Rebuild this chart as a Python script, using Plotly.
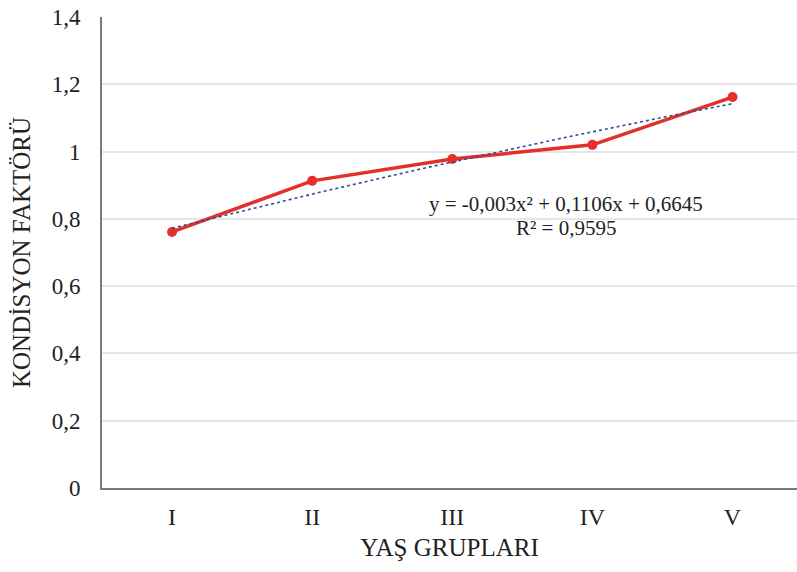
import numpy as np
import plotly.graph_objects as go

# Age groups and their mean condition factor
age_groups = ["I", "II", "III", "IV", "V"]
condition_factor = [0.761, 0.913, 0.978, 1.020, 1.162]

# Polynomial trendline coefficients (order 2) as printed on the chart
trend_a, trend_b, trend_c = -0.003, 0.1106, 0.6645
r_squared = 0.9595

y_ticks = [0, 0.2, 0.4, 0.6, 0.8, 1.0, 1.2, 1.4]
y_tick_text = ["0", "0,2", "0,4", "0,6", "0,8", "1", "1,2", "1,4"]

pos = list(range(len(age_groups)))
t = np.linspace(1, len(age_groups), 200)
trend_y = trend_a * t**2 + trend_b * t + trend_c

font_family = "Liberation Serif, Times New Roman, serif"
text_color = "#222222"

fig = go.Figure()
fig.add_trace(go.Scatter(
    x=pos, y=condition_factor, mode="lines+markers",
    line=dict(color="#E3302A", width=3.5),
    marker=dict(color="#E3302A", size=10),
    hoverinfo="skip", showlegend=False,
))
fig.add_trace(go.Scatter(
    x=t - 1, y=trend_y, mode="lines",
    line=dict(color="#2F4F8F", width=1.6, dash="dot"),
    hoverinfo="skip", showlegend=False,
))

eq_line = "y = -0,003x² + 0,1106x + 0,6645"
r2_line = "R² = " + f"{r_squared:.4f}".replace(".", ",")
for txt, yv in [(eq_line, 0.844), (r2_line, 0.773)]:
    fig.add_annotation(
        x=2.81, y=yv, xref="x", yref="y", text=txt, showarrow=False,
        font=dict(family=font_family, size=21, color=text_color),
        xanchor="center", yanchor="middle",
    )

fig.update_layout(
    width=797, height=572,
    margin=dict(l=102, r=0, t=17, b=84),
    paper_bgcolor="white", plot_bgcolor="white",
    font=dict(family=font_family, color=text_color),
    xaxis=dict(
        range=[-0.5, 4.46], tickvals=pos, ticktext=age_groups,
        showgrid=False, zeroline=False,
        showline=True, linecolor="#7a7a7a", linewidth=2,
        ticks="", ticklabelstandoff=6,
        tickfont=dict(size=24, family=font_family),
        title=dict(text="YAŞ GRUPLARI", font=dict(size=25, family=font_family), standoff=10),
    ),
    yaxis=dict(
        range=[0, 1.4], tickvals=y_ticks, ticktext=y_tick_text,
        showgrid=True, gridcolor="#e6e6e6", gridwidth=1.5, zeroline=False,
        showline=True, linecolor="#7a7a7a", linewidth=2,
        ticks="", ticklabelstandoff=15,
        tickfont=dict(size=23, family=font_family),
        title=dict(text="KONDİSYON FAKTÖRÜ", font=dict(size=25, family=font_family), standoff=14),
    ),
)

fig.write_html("out.html")
